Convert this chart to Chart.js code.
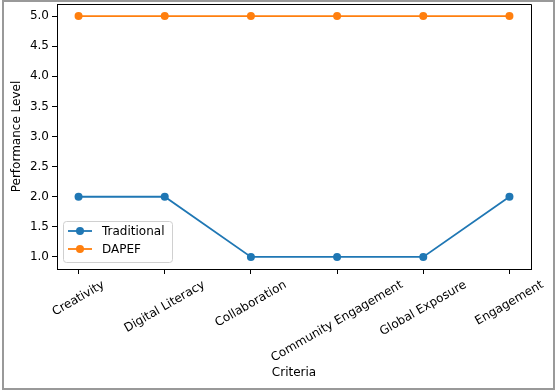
<!DOCTYPE html>
<html>
<head>
<meta charset="utf-8">
<script src="https://cdn.jsdelivr.net/npm/chart.js@4.4.0/dist/chart.umd.min.js"></script>
<style>
    body { margin: 0; background: #fff; }
    #wrap { width: 557px; height: 392px; }
</style>
</head>
<body>
<div id="wrap"><canvas id="myLineChart" width="557" height="392"></canvas></div>
<script>
const categories = ['Creativity', 'Digital Literacy', 'Collaboration', 'Community Engagement', 'Global Exposure', 'Engagement'];
const traditional = [2, 2, 1, 1, 1, 2];
const dapef = [5, 5, 5, 5, 5, 5];
const yTicks = [1.0, 1.5, 2.0, 2.5, 3.0, 3.5, 4.0, 4.5, 5.0];

const FONT = 'DejaVu Sans';
const BLUE = '#1f77b4';
const ORANGE = '#ff7f0e';

// frame, spines, rotated x labels and legend (matplotlib look)
const extras = {
    id: 'extras',
    beforeDraw(chart) {
        const ctx = chart.ctx;
        ctx.save();
        ctx.fillStyle = '#fff';
        ctx.fillRect(0, 0, chart.width, chart.height);
        ctx.restore();
    },
    afterDraw(chart) {
        const ctx = chart.ctx;
        const area = chart.chartArea;
        const xScale = chart.scales.x;
        ctx.save();

        // top + right spines
        ctx.strokeStyle = '#000';
        ctx.lineWidth = 1;
        ctx.beginPath();
        ctx.moveTo(area.left, area.top + 0.5);
        ctx.lineTo(area.right + 0.5, area.top + 0.5);
        ctx.lineTo(area.right + 0.5, area.bottom);
        ctx.stroke();

        // x labels, rotated 30deg, centred on tick
        ctx.font = '12px "' + FONT + '"';
        ctx.fillStyle = '#000';
        ctx.textAlign = 'center';
        ctx.textBaseline = 'middle';
        const ang = Math.PI / 6;
        categories.forEach((label, i) => {
            const x = xScale.getPixelForValue(i);
            const w = ctx.measureText(label).width;
            const h = 14;
            const boxH = w * Math.sin(ang) + h * Math.cos(ang);
            ctx.save();
            ctx.translate(x, area.bottom + 9 + boxH / 2);
            ctx.rotate(-ang);
            ctx.fillText(label, 0, 0);
            ctx.restore();
        });

        // legend
        const lx = 63, ly = 221, lw = 109, lh = 41;
        ctx.fillStyle = 'rgba(255,255,255,0.8)';
        ctx.strokeStyle = '#d0d0d0';
        ctx.lineWidth = 1;
        ctx.beginPath();
        ctx.roundRect(lx + 0.5, ly + 0.5, lw, lh, 3);
        ctx.fill();
        ctx.stroke();
        const items = [['Traditional', BLUE, 231], ['DAPEF', ORANGE, 249]];
        items.forEach(([text, color, y]) => {
            ctx.strokeStyle = color;
            ctx.lineWidth = 1.8;
            ctx.beginPath();
            ctx.moveTo(68, y);
            ctx.lineTo(92, y);
            ctx.stroke();
            ctx.fillStyle = color;
            ctx.beginPath();
            ctx.arc(80, y, 4, 0, Math.PI * 2);
            ctx.fill();
            ctx.fillStyle = '#000';
            ctx.textAlign = 'left';
            ctx.fillText(text, 102, y + 1);
        });

        // outer grey frame
        ctx.strokeStyle = '#999';
        ctx.lineWidth = 2;
        ctx.strokeRect(3, 1, 551, 388);
        ctx.restore();
    }
};

const config = {
    type: 'line',
    data: {
        datasets: [{
            label: 'Traditional',
            data: traditional.map((v, i) => ({ x: i, y: v })),
            borderColor: BLUE,
            backgroundColor: BLUE,
            borderWidth: 1.8,
            pointRadius: 4,
            pointBorderWidth: 0,
            pointBackgroundColor: BLUE,
            tension: 0
        }, {
            label: 'DAPEF',
            data: dapef.map((v, i) => ({ x: i, y: v })),
            borderColor: ORANGE,
            backgroundColor: ORANGE,
            borderWidth: 1.8,
            pointRadius: 4,
            pointBorderWidth: 0,
            pointBackgroundColor: ORANGE,
            tension: 0
        }]
    },
    options: {
        responsive: false,
        animation: false,
        layout: { padding: { top: 4, right: 26, left: 0, bottom: 0 } },
        plugins: {
            legend: { display: false },
            tooltip: { enabled: false }
        },
        scales: {
            x: {
                type: 'linear',
                min: -0.25,
                max: 5.25,
                afterBuildTicks: (scale) => { scale.ticks = categories.map((c, i) => ({ value: i })); },
                afterFit: (scale) => {
                    scale.height = 123;
                    scale.paddingLeft = 0;
                    scale.paddingRight = 0;
                },
                ticks: { display: false },
                grid: { drawOnChartArea: false, tickLength: 5, color: '#000', tickColor: '#000' },
                border: { color: '#000', width: 1 },
                title: {
                    display: true,
                    text: 'Criteria',
                    color: '#000',
                    font: { family: FONT, size: 12 },
                    padding: { top: 0, bottom: 12 }
                }
            },
            y: {
                min: 0.8,
                max: 5.2,
                afterBuildTicks: (scale) => { scale.ticks = yTicks.map(v => ({ value: v })); },
                afterFit: (scale) => {
                    scale.width = 57;
                    scale.paddingTop = 0;
                    scale.paddingBottom = 0;
                },
                ticks: {
                    color: '#000',
                    padding: 3,
                    font: { family: FONT, size: 12 },
                    callback: (v) => Number(v).toFixed(1)
                },
                grid: { drawOnChartArea: false, tickLength: 5, color: '#000', tickColor: '#000' },
                border: { color: '#000', width: 1 },
                title: {
                    display: true,
                    text: 'Performance Level',
                    color: '#000',
                    font: { family: FONT, size: 12 },
                    padding: { top: 10, bottom: 0 }
                }
            }
        }
    },
    plugins: [extras]
};

const lineChart = new Chart(document.querySelector('#myLineChart'), config);
</script>
</body>
</html>
